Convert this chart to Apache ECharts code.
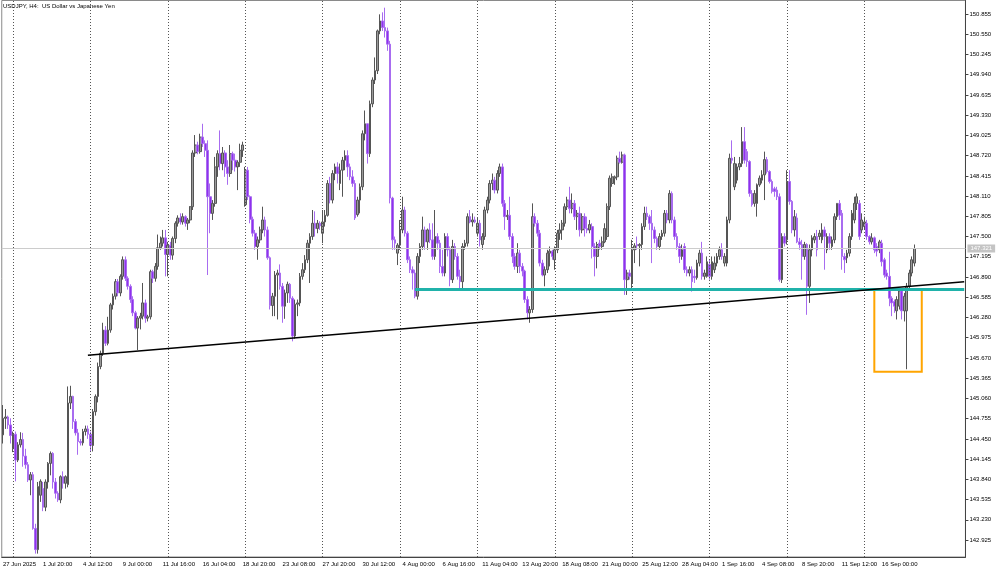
<!DOCTYPE html>
<html><head><meta charset="utf-8">
<script src="https://cdn.jsdelivr.net/npm/echarts@6/dist/echarts.min.js"></script>
<style>html,body{margin:0;padding:0;background:#fff}#c{width:1000px;height:572px}</style>
</head><body><div id="c"></div>
<script>
const chartTitle = 'USDJPY, H4:  US Dollar vs Japanese Yen';

// H4 bars, index 0 = 27 Jun 2025 08:00
const opens = [
144.51,144.76,144.78,144.66,144.30,144.52,144.13,144.36,144.44,144.19,
144.06,143.83,143.91,143.10,142.78,143.60,143.70,143.42,143.80,144.08,
144.23,143.80,143.63,143.53,143.88,143.78,143.76,144.99,145.09,144.71,
144.54,144.41,144.39,144.56,144.60,144.52,144.35,144.86,145.09,145.54,
145.74,146.09,145.89,146.09,146.47,146.60,146.82,146.65,146.90,147.15,
146.87,146.75,146.55,146.35,146.12,146.27,146.30,146.50,146.27,146.29,
146.97,146.87,147.05,147.33,147.40,147.48,147.23,147.37,147.22,147.47,
147.70,147.78,147.72,147.80,147.70,147.75,147.95,148.76,148.88,148.78,
149.00,148.90,148.80,148.10,147.85,148.00,148.55,148.75,148.60,148.76,
148.55,148.45,148.75,148.65,148.55,148.62,148.80,147.98,148.50,148.10,
147.76,147.55,147.35,147.45,147.60,147.75,147.60,147.18,146.46,146.60,
146.92,146.95,146.75,146.45,146.65,146.78,146.57,146.00,146.48,146.50,
146.90,147.00,147.15,147.40,147.50,147.70,147.62,147.70,147.55,147.72,
147.82,148.30,148.05,148.45,148.55,148.30,148.50,148.65,148.72,148.55,
148.40,148.30,147.83,148.05,148.25,149.05,149.20,148.75,149.50,149.86,
150.00,150.60,150.75,150.65,150.60,150.40,148.08,147.45,147.25,147.37,
147.60,147.90,147.55,147.15,147.00,146.95,146.60,147.20,147.35,147.60,
147.42,147.60,147.45,147.20,147.50,147.40,147.05,146.95,147.50,147.30,
146.85,147.35,147.20,146.90,146.82,147.35,147.40,147.80,147.72,147.75,
147.55,147.70,147.38,147.50,147.90,148.05,148.30,148.35,148.20,148.45,
148.55,148.00,147.80,147.82,147.50,147.20,147.05,147.25,147.05,146.98,
146.55,146.35,146.40,147.80,147.70,147.55,147.10,146.92,147.00,147.25,
147.28,147.15,147.30,147.55,147.60,147.70,147.95,148.05,147.92,148.00,
147.80,147.85,147.60,147.80,147.62,147.60,147.65,147.35,147.20,147.40,
147.35,147.42,147.50,147.95,148.30,148.38,148.40,148.68,148.62,148.73,
146.85,146.95,146.80,147.30,147.38,147.36,147.38,147.65,147.85,147.80,
147.70,147.60,147.47,147.35,147.50,147.55,147.85,147.75,148.15,147.75,
147.50,147.35,147.20,147.35,147.00,146.95,147.00,146.90,146.88,147.10,
147.25,146.90,146.90,147.08,146.90,147.00,147.10,147.20,147.30,147.10,
147.10,147.75,148.68,148.25,148.35,148.55,148.60,148.93,148.78,148.63,
148.15,148.00,148.00,148.28,148.35,148.43,148.66,148.48,148.33,148.22,
148.20,148.10,146.85,147.50,147.45,148.33,148.03,147.60,147.78,147.42,
147.38,147.20,147.38,146.75,147.30,147.45,147.50,147.50,147.45,147.60,
147.30,147.50,147.35,147.45,147.80,148.00,147.85,147.20,147.18,147.25,
147.50,147.75,148.00,148.00,147.60,147.65,147.70,147.50,147.42,147.48,
147.35,147.30,147.40,147.15,146.95,146.90,146.57,146.52,146.38,146.45,
146.68,146.38,146.38,146.75,146.95,147.10
];
const highs = [
144.96,144.90,144.80,144.76,144.56,144.56,144.40,144.55,144.54,144.30,
144.10,143.95,143.95,143.17,143.80,143.84,143.80,143.84,144.10,144.26,
144.25,143.86,143.66,143.90,143.96,143.90,145.24,145.25,145.10,144.75,
144.60,144.45,144.60,144.65,144.65,144.56,144.90,145.12,145.60,145.78,
146.20,146.15,146.29,146.50,146.64,146.86,146.86,146.93,147.20,147.20,
146.90,146.78,146.60,146.38,146.30,146.35,146.80,146.55,146.32,147.00,
147.00,147.10,147.53,147.50,147.60,147.60,147.42,147.42,147.50,147.73,
147.82,147.85,147.85,147.82,147.78,147.96,148.80,149.03,148.93,149.05,
149.20,148.95,148.95,148.30,148.05,148.70,148.80,149.10,148.85,148.80,
148.65,148.88,148.78,148.75,148.65,148.90,148.93,148.55,148.55,148.12,
147.80,147.60,147.50,147.65,147.95,147.80,147.65,147.20,146.65,146.98,
147.00,147.08,146.80,146.70,146.82,146.80,146.60,146.55,146.55,146.95,
147.10,147.22,147.45,147.55,147.90,147.88,147.75,147.73,147.90,147.90,
148.35,148.40,148.50,148.60,148.62,148.60,148.70,148.80,148.80,148.60,
148.50,148.35,148.10,148.30,149.10,149.40,149.20,149.55,149.90,150.20,
150.62,150.85,150.88,150.95,150.65,150.45,148.10,147.50,147.40,147.75,
148.10,147.95,147.58,147.20,147.05,147.00,147.25,147.40,147.80,147.65,
147.62,147.70,147.70,147.90,147.55,147.45,147.30,147.55,147.55,147.35,
147.45,147.40,147.25,147.00,147.40,147.45,147.85,147.90,147.85,147.80,
147.78,147.75,147.55,147.95,148.10,148.35,148.45,148.40,148.50,148.60,
148.60,148.05,147.90,148.10,147.55,147.25,147.40,147.30,147.10,147.00,
146.60,146.45,148.00,147.85,147.75,147.60,147.15,147.05,147.30,147.35,
147.30,147.35,147.60,147.70,147.75,148.00,148.10,148.25,148.15,148.05,
147.90,147.95,147.85,147.85,147.80,147.75,147.70,147.40,147.42,147.45,
147.50,147.70,148.00,148.42,148.45,148.42,148.72,148.78,148.78,148.75,
147.00,147.00,147.45,147.40,147.50,147.40,147.70,147.95,147.95,147.83,
147.90,147.65,147.50,147.55,147.60,147.90,147.90,148.20,148.18,147.80,
147.55,147.40,147.38,147.40,147.05,147.05,147.05,147.00,147.15,147.30,
147.42,147.00,147.20,147.15,147.20,147.20,147.25,147.35,147.40,147.25,
147.80,148.75,148.95,148.70,148.60,148.70,149.15,149.15,148.82,148.65,
148.20,148.20,148.30,148.42,148.50,148.78,148.70,148.50,148.36,148.25,
148.25,148.15,147.55,147.55,148.50,148.50,148.05,147.90,147.85,147.48,
147.45,147.42,147.40,147.38,147.52,147.55,147.60,147.60,147.70,147.65,
147.55,147.55,147.50,147.85,148.00,148.05,147.90,147.25,147.30,147.55,
147.90,148.10,148.15,148.05,147.85,147.80,147.75,147.52,147.55,147.50,
147.40,147.45,147.45,147.18,147.00,147.27,146.60,146.55,146.60,146.72,
146.72,146.65,146.80,147.00,147.20,147.38
];
const lows = [
144.38,144.60,144.60,144.38,144.25,143.81,144.10,144.32,144.03,144.00,
143.80,143.60,143.08,142.72,142.72,143.50,143.36,143.36,143.70,143.90,
143.70,143.55,143.50,143.48,143.70,143.70,143.72,144.90,144.60,144.50,
144.21,144.35,144.35,144.50,144.45,144.25,144.26,144.80,145.00,145.50,
145.70,145.85,145.86,146.05,146.40,146.55,146.60,146.60,146.85,146.83,
146.70,146.50,146.30,146.10,145.79,146.10,146.25,146.20,146.22,146.25,
146.80,146.82,147.00,147.30,147.35,146.90,146.90,147.15,147.15,147.40,
147.65,147.68,147.68,147.65,147.60,147.70,147.90,148.70,148.74,148.75,
148.85,148.70,146.92,147.55,147.75,147.95,148.40,148.50,148.50,148.40,
148.28,148.40,148.50,148.48,148.20,148.55,148.70,147.95,148.05,147.70,
147.50,147.30,147.15,147.40,147.55,147.50,147.15,146.40,146.30,146.30,
146.25,146.70,146.20,146.26,146.50,146.50,145.92,145.96,146.30,146.45,
146.85,146.95,147.10,146.80,147.45,147.50,147.55,147.60,147.40,147.65,
147.80,148.00,148.00,148.35,148.30,148.20,148.10,148.50,148.40,148.35,
148.25,147.75,147.80,147.85,148.20,148.95,148.60,148.70,149.45,149.80,
149.95,150.55,150.60,150.50,150.30,148.00,147.30,147.30,147.07,147.30,
147.55,147.50,147.10,146.95,146.70,146.57,146.55,147.10,147.30,147.30,
147.30,147.40,147.15,147.15,147.30,146.95,146.90,146.90,147.20,146.75,
146.80,147.15,146.85,146.70,146.70,147.30,147.35,147.70,147.65,147.70,
147.50,147.35,147.30,147.45,147.85,148.00,148.20,148.15,148.15,148.40,
147.95,147.60,147.75,147.45,147.10,147.00,146.95,146.95,146.90,146.50,
146.25,146.20,146.35,147.65,147.50,147.05,146.90,146.75,146.95,147.05,
147.15,147.00,147.25,147.45,147.45,147.65,147.90,147.85,147.85,147.75,
147.60,147.50,147.55,147.50,147.55,147.55,147.17,146.90,147.02,147.30,
147.30,147.40,147.45,147.90,148.25,148.28,148.35,148.60,148.60,146.62,
146.62,146.85,146.70,147.10,147.30,147.05,147.30,147.60,147.75,147.60,
147.10,147.40,147.30,147.30,147.45,147.50,147.70,147.70,147.70,147.45,
147.30,147.10,147.15,146.95,146.90,146.90,146.67,146.80,146.85,147.05,
146.85,146.85,146.88,146.85,146.85,146.95,147.05,147.15,147.15,147.05,
147.05,147.70,148.60,148.20,148.30,148.50,148.55,148.60,148.55,148.10,
147.95,147.95,147.80,148.25,148.30,148.05,148.45,148.30,148.15,148.10,
148.05,146.82,146.80,147.35,147.38,147.98,147.55,147.50,147.40,147.30,
146.85,147.15,146.32,146.50,147.20,147.40,147.20,147.45,147.40,147.00,
147.25,147.30,147.30,147.40,147.75,147.75,147.00,146.95,147.10,147.20,
147.45,147.70,147.90,147.45,147.55,147.60,147.45,147.38,147.38,147.25,
147.20,147.25,147.05,146.88,146.85,146.45,146.30,146.35,146.25,146.40,
146.25,146.22,145.50,146.70,146.90,147.05
];
const closes = [
144.76,144.78,144.66,144.50,144.52,144.13,144.36,144.44,144.19,144.06,
143.83,143.91,143.10,142.78,143.73,143.81,143.42,143.80,144.08,144.23,
143.80,143.63,143.53,143.88,143.78,143.88,144.99,145.09,144.71,144.54,
144.41,144.39,144.56,144.60,144.52,144.35,144.86,145.09,145.54,145.74,
146.09,145.89,146.09,146.47,146.60,146.82,146.65,146.90,147.15,146.87,
146.75,146.55,146.35,146.12,146.27,146.30,146.50,146.27,146.29,146.97,
146.87,147.05,147.33,147.40,147.48,147.23,147.37,147.22,147.47,147.70,
147.78,147.72,147.80,147.70,147.75,147.95,148.76,148.88,148.78,149.00,
148.90,148.80,148.10,147.85,148.00,148.55,148.75,148.60,148.76,148.55,
148.45,148.75,148.65,148.55,148.62,148.80,148.88,148.50,148.10,147.76,
147.55,147.35,147.45,147.60,147.75,147.60,147.18,146.46,146.60,146.92,
146.95,146.75,146.45,146.65,146.78,146.57,146.00,146.48,146.50,146.90,
147.00,147.15,147.40,147.50,147.70,147.62,147.70,147.66,147.72,147.82,
148.30,148.05,148.45,148.55,148.45,148.50,148.65,148.72,148.55,148.40,
148.30,147.78,148.05,148.25,149.05,149.20,148.75,149.50,149.86,150.00,
150.60,150.75,150.65,150.60,150.40,148.08,147.45,147.40,147.37,147.60,
147.90,147.55,147.15,147.00,146.95,146.60,147.20,147.35,147.60,147.42,
147.60,147.45,147.20,147.50,147.40,147.05,146.95,147.50,147.30,146.85,
147.35,147.20,146.90,146.82,147.35,147.40,147.80,147.72,147.75,147.72,
147.70,147.45,147.50,147.90,148.05,148.30,148.35,148.20,148.45,148.55,
148.00,147.80,147.82,147.50,147.20,147.05,147.25,147.05,146.98,146.55,
146.35,146.40,147.80,147.70,147.55,147.10,146.92,147.00,147.25,147.28,
147.20,147.30,147.55,147.60,147.70,147.95,148.05,147.92,148.00,147.80,
147.85,147.60,147.80,147.62,147.60,147.68,147.35,147.20,147.38,147.35,
147.42,147.62,147.95,148.38,148.40,148.40,148.68,148.62,148.73,146.85,
146.95,146.90,147.30,147.36,147.36,147.38,147.65,147.85,147.80,147.70,
147.60,147.47,147.35,147.50,147.55,147.85,147.75,148.15,147.75,147.50,
147.35,147.20,147.30,147.00,146.95,147.00,146.82,146.88,147.10,147.25,
146.90,146.95,147.12,146.90,147.12,147.10,147.20,147.30,147.20,147.20,
147.75,148.68,148.65,148.60,148.55,148.60,148.93,148.65,148.63,148.15,
147.98,148.15,148.28,148.38,148.43,148.66,148.48,148.33,148.18,148.18,
148.10,146.85,147.50,147.40,148.33,148.03,147.60,147.80,147.42,147.38,
147.20,147.38,146.75,147.30,147.48,147.50,147.30,147.55,147.60,147.50,
147.50,147.40,147.45,147.80,148.00,147.82,147.20,147.15,147.25,147.50,
147.85,148.00,148.10,147.50,147.75,147.72,147.50,147.42,147.48,147.30,
147.28,147.42,147.12,146.92,146.90,146.57,146.50,146.45,146.55,146.68,
146.38,146.60,146.75,146.95,147.15,147.32
];

const xTickLabels = ['27 Jun 2025','1 Jul 20:00','4 Jul 12:00','9 Jul 00:00','11 Jul 16:00','16 Jul 04:00',
  '18 Jul 20:00','23 Jul 08:00','27 Jul 20:00','30 Jul 12:00','4 Aug 00:00','6 Aug 16:00','11 Aug 04:00',
  '13 Aug 20:00','18 Aug 08:00','21 Aug 00:00','25 Aug 12:00','28 Aug 04:00','1 Sep 16:00','4 Sep 08:00',
  '8 Sep 20:00','11 Sep 12:00','16 Sep 00:00'];
const xTickStep = 16;
const weekStarts = [4,35,66,97,128,159,190,221,252,283,314,345];
const yTicks = [142.925,143.230,143.535,143.840,144.145,144.450,144.755,145.060,145.365,145.670,
  145.975,146.280,146.585,146.890,147.195,147.500,147.805,148.110,148.415,148.720,149.025,149.330,
  149.635,149.940,150.245,150.550,150.855];
const currentPrice = 147.321;
const supportLine = [[165,146.70],[385,146.70]];
const trendLine = [[34,145.71],[385,146.82]];
const boxCorners = [[349,146.71],[368,145.46]];
const totalSlots = 386;

const categories = Array.from({length: totalSlots}, (_, i) => String(i));
const candles = opens.map((o, i) => [o, closes[i], lows[i], highs[i]]);
const showTick = (idx) => idx % xTickStep === 0 && idx / xTickStep < xTickLabels.length;
const FONT = 'Liberation Sans';

const chart = echarts.init(document.getElementById('c'), null, {renderer: 'canvas'});
chart.setOption({
  animation: false,
  backgroundColor: '#ffffff',
  textStyle: {fontFamily: FONT},
  graphic: [{type: 'text', left: 3, top: 3, z: 100,
    style: {text: chartTitle, fontSize: 6, fill: '#000', fontFamily: FONT}}],
  grid: {left: 0.45, top: 0.5, width: 965, height: 556.5, show: true, borderColor: '#8a8a8a', borderWidth: 1},
  xAxis: {
    type: 'category', data: categories, boundaryGap: true,
    axisLine: {lineStyle: {color: '#444'}},
    axisTick: {interval: showTick, alignWithLabel: true, length: 3, lineStyle: {color: '#444'}},
    axisLabel: {interval: showTick, formatter: (v, idx) => xTickLabels[idx / xTickStep],
      align: 'left', fontSize: 6, color: '#000', margin: 4, fontFamily: FONT},
    splitLine: {show: false}
  },
  yAxis: {
    type: 'value', position: 'right', min: 142.669, max: 151.0585,
    axisLine: {show: true, lineStyle: {color: '#444'}},
    axisTick: {show: true, customValues: yTicks, length: 3, lineStyle: {color: '#444'}},
    axisLabel: {customValues: yTicks, formatter: v => v.toFixed(3), fontSize: 6, color: '#000', margin: 4, fontFamily: FONT},
    splitLine: {show: false}
  },
  series: [
    {
      type: 'line', data: [], z: 1, silent: true,
      markLine: {symbol: ['none','none'], silent: true, animation: false, label: {show: false},
        data: weekStarts.map(i => ({xAxis: i, lineStyle: {color: '#555', type: [1,2], width: 1}}))
          .concat([{yAxis: currentPrice, lineStyle: {color: '#cccccc', type: 'solid', width: 1},
            label: {show: true, position: 'end', formatter: currentPrice.toFixed(3), distance: 2,
              backgroundColor: '#c4c4c4', color: '#fff', fontSize: 6, padding: [1, 3, 1, 3], fontFamily: FONT}}])}
    },
    {
      type: 'candlestick', data: candles, z: 3, barWidth: 2.2,
      itemStyle: {color: '#9a9a9a', borderColor: '#555555', color0: '#9030ee', borderColor0: '#a86cf0', borderWidth: 1}
    },
    {
      type: 'line', data: supportLine, z: 5, symbol: 'none', silent: true,
      lineStyle: {color: '#20b2aa', width: 3},
      markArea: {silent: true, itemStyle: {color: 'rgba(0,0,0,0)', borderColor: '#ffa500', borderWidth: 2},
        data: [[{coord: boxCorners[0]}, {coord: boxCorners[1]}]]}
    },
    {
      type: 'line', data: trendLine, z: 6, symbol: 'none', silent: true,
      lineStyle: {color: '#000', width: 1.5}
    }
  ]
});
</script></body></html>
